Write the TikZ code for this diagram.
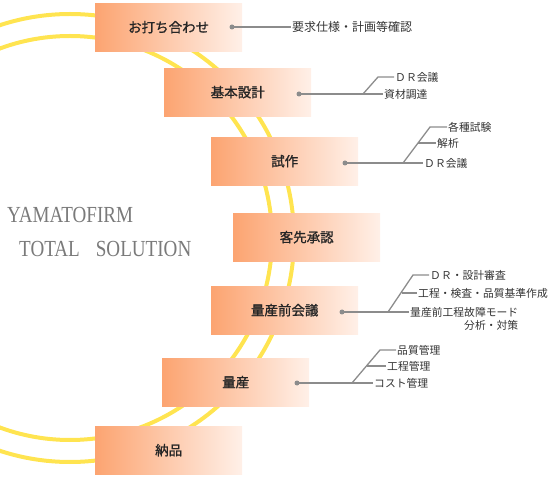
\documentclass[tikz,border=0pt]{standalone}
\usepackage{fontspec}
\setmainfont{Liberation Serif}
\newfontfamily\jpfont{Noto Sans CJK JP}
\newfontfamily\stagefont{Noto Sans CJK JP}[FakeBold=1.2]
\newfontfamily\logofont{Liberation Serif}[FakeStretch=0.83]
\usepackage{tikz}
\definecolor{FirmYellow}{HTML}{FFE450}
\definecolor{FirmOrange}{HTML}{FCA471}
\definecolor{FirmPeach}{HTML}{FFF0E8}
\definecolor{FirmGray}{HTML}{8C8C8C}
\definecolor{FirmText}{HTML}{7A7A7A}

\begin{document}
\begin{tikzpicture}[x=1pt, y=-1pt,
    stage/.style={anchor=north west, minimum width=147pt, minimum height=48pt, inner sep=0pt,
        left color=FirmOrange, right color=FirmPeach, text=black!85,
        font=\stagefont\fontsize{13.5}{16}\selectfont},
    task/.style={anchor=west, inner sep=1pt, text=black!80, font=\jpfont\fontsize{10.8}{13}\selectfont},
    link/.style={FirmGray, line width=1.3pt},
    ring/.style={FirmYellow, line width=4pt},
    logo/.style={anchor=base west, inner sep=0pt, text=FirmText, font=\logofont\fontsize{23}{27}\selectfont}]
                \useasboundingbox (0,0) rectangle (557,478);

                % Yellow rings
                \begin{scope}
                    \clip (0,0) rectangle (557,478);
                    \draw[ring] (70,238) circle (224);
                    \draw[ring] (70,238) circle (202);
                \end{scope}

                % Title
                \node[logo] (logo1) at (7,223) {YAMATOFIRM};
                \node[logo] (logo2) at (19,257) {TOTAL\hspace{16pt}SOLUTION};

                % Stages
                \node[stage] (b1) at (95,3) {お打ち合わせ};
                \node[stage] (b2) at (164,68) {基本設計};
                \node[stage] (b3) at (211,137) {試作};
                \node[stage] (b4) at (233,213) {客先承認};
                \node[stage] (b5) at (211,286) {量産前会議};
                \node[stage] (b6) at (162,358) {量産};
                \node[stage] (b7) at (95,426) {納品};

                % Meeting
                \coordinate (d1) at (232,27);
                \node[task, font=\jpfont\fontsize{12}{14}\selectfont] (t1) at (291,27) {要求仕様・計画等確認};
                \draw[link] (d1) -- (t1.west);
                \fill[FirmGray] (d1) circle (2.5pt);

                % Basic design
                \coordinate (d2) at (299,94);
                \coordinate (j2) at (363,94);
                \coordinate (e2) at (378,77);
                \node[task] (t2a) at (394,77) {ＤＲ会議};
                \node[task] (t2b) at (383,94) {資材調達};
                \draw[link] (d2) -- (t2b.west);
                \draw[link] (j2) -- (e2) -- (t2a.west);
                \fill[FirmGray] (d2) circle (2.5pt);

                % Prototype
                \coordinate (d3) at (345,163);
                \coordinate (j3) at (403,163);
                \coordinate (e3) at (430,127);
                \coordinate (m3) at (418,143);
                \node[task] (t3a) at (447,127) {各種試験};
                \node[task] (t3b) at (436,143) {解析};
                \node[task] (t3c) at (423,163) {ＤＲ会議};
                \draw[link] (d3) -- (t3c.west);
                \draw[link] (j3) -- (e3) -- (t3a.west);
                \draw[link] (m3) -- (t3b.west);
                \fill[FirmGray] (d3) circle (2.5pt);

                % Pre-production meeting
                \coordinate (d5) at (342,312);
                \coordinate (j5) at (388,312);
                \coordinate (e5) at (413,275);
                \coordinate (m5) at (402,293);
                \node[task] (t5a) at (429,275) {ＤＲ・設計審査};
                \node[task] (t5b) at (417,293) {工程・検査・品質基準作成};
                \node[task] (t5c) at (409,312) {量産前工程故障モード};
                \node[task, anchor=east] (t5d) at ([yshift=-13pt]t5c.east) {分析・対策};
                \draw[link] (d5) -- (t5c.west);
                \draw[link] (j5) -- (e5) -- (t5a.west);
                \draw[link] (m5) -- (t5b.west);
                \fill[FirmGray] (d5) circle (2.5pt);

                % Production
                \coordinate (d6) at (297,383);
                \coordinate (j6) at (352,383);
                \coordinate (e6) at (380,350);
                \coordinate (m6) at (367,366);
                \node[task] (t6a) at (396,350) {品質管理};
                \node[task] (t6b) at (386,366) {工程管理};
                \node[task] (t6c) at (373,383) {コスト管理};
                \draw[link] (d6) -- (t6c.west);
                \draw[link] (j6) -- (e6) -- (t6a.west);
                \draw[link] (m6) -- (t6b.west);
                \fill[FirmGray] (d6) circle (2.5pt);
            \end{tikzpicture}
\end{document}
